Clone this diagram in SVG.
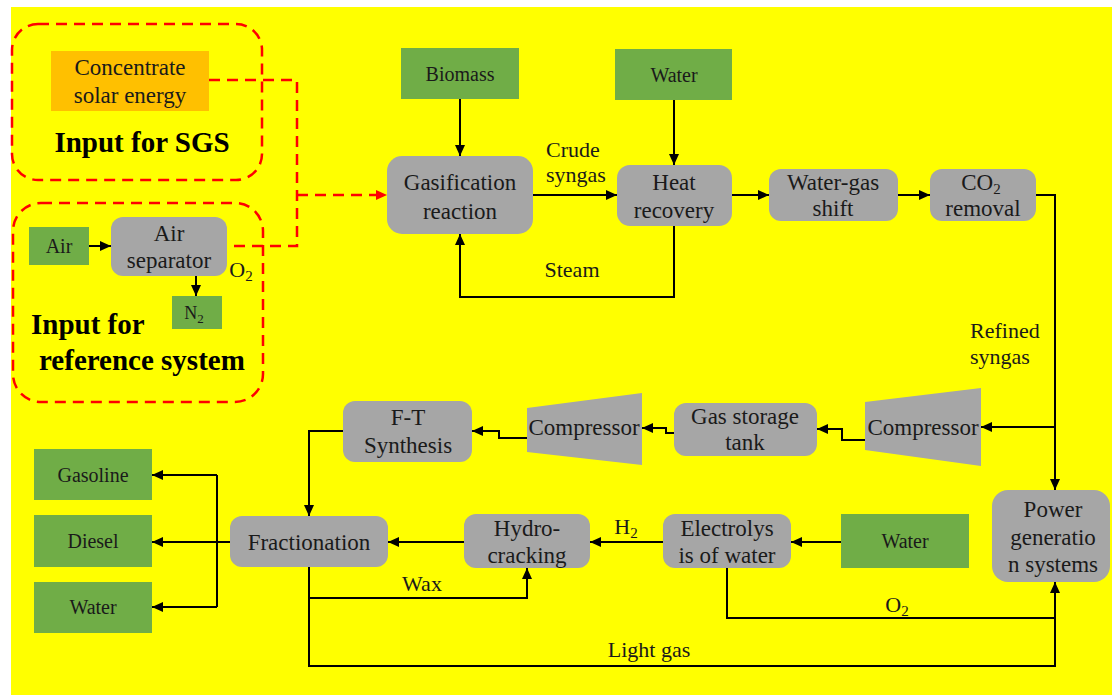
<svg xmlns="http://www.w3.org/2000/svg" width="1112" height="695" viewBox="0 0 1112 695">
<defs>
<style>
text{font-family:"Liberation Serif","Times New Roman",serif;fill:#1a1a1a;text-anchor:middle}
.g{fill:#A6A6A6}
.gr{fill:#70AD47}
.t{font-size:23px}
.s{font-size:20px}
.b{font-size:29px;font-weight:bold;fill:#000}
.l{font-size:22px;text-anchor:start}
.m{font-size:22px}
.c{fill:none;stroke:#000;stroke-width:2}
.d{fill:none;stroke:#FF0000;stroke-width:2.5;stroke-dasharray:11 7}
</style>
<marker id="a" markerUnits="userSpaceOnUse" markerWidth="11" markerHeight="10" refX="11" refY="5" orient="auto"><path d="M0,0 L11,5 L0,10 z" fill="#000"/></marker>
<marker id="r" markerUnits="userSpaceOnUse" markerWidth="11" markerHeight="10" refX="11" refY="5" orient="auto"><path d="M0,0 L11,5 L0,10 z" fill="#FF0000"/></marker>
</defs>
<rect x="11" y="7" width="1101" height="688" fill="#FFFF00"/>

<g id="group-sgs">
<rect class="d" x="12" y="24" width="250" height="156" rx="26"/>
<text class="b" x="142" y="152">Input for SGS</text>
</g>
<g id="group-ref">
<rect class="d" x="13" y="203" width="250" height="199" rx="28"/>
<text class="b" x="31" y="334" style="text-anchor:start">Input for</text>
<text class="b" x="39" y="370" style="text-anchor:start">reference system</text>
</g>

<g id="connectors">
<path class="d" d="M209,80 H297 V246 H227"/>
<path class="d" d="M297,195 H387" marker-end="url(#r)"/>
<path class="c" d="M89,246 H111" marker-end="url(#a)"/>
<path class="c" d="M196,276 V296" marker-end="url(#a)"/>
<path class="c" d="M460,99 V156" marker-end="url(#a)"/>
<path class="c" d="M674,100 V165" marker-end="url(#a)"/>
<path class="c" d="M533,195 H617" marker-end="url(#a)"/>
<path class="c" d="M674,226 V297 H460 V234" marker-end="url(#a)"/>
<path class="c" d="M732,195 H769" marker-end="url(#a)"/>
<path class="c" d="M898,195 H930" marker-end="url(#a)"/>
<path class="c" d="M1036,195 H1055 V490" marker-end="url(#a)"/>
<path class="c" d="M1055,427 H981" marker-end="url(#a)"/>
<path class="c" d="M865,440 H842 V429 H817" marker-end="url(#a)"/>
<path class="c" d="M674,433 H666 V428 H642" marker-end="url(#a)"/>
<path class="c" d="M527,438 H499 V431 H472" marker-end="url(#a)"/>
<path class="c" d="M343,431 H309 V516" marker-end="url(#a)"/>
<path class="c" d="M230,542 H152" marker-end="url(#a)"/>
<path class="c" d="M217,475 V607"/>
<path class="c" d="M217,475 H152" marker-end="url(#a)"/>
<path class="c" d="M217,607 H152" marker-end="url(#a)"/>
<path class="c" d="M464,542 H388" marker-end="url(#a)"/>
<path class="c" d="M309,567 V598 H527 V568" marker-end="url(#a)"/>
<path class="c" d="M309,598 V666 H1055 V582" marker-end="url(#a)"/>
<path class="c" d="M663,542 H590" marker-end="url(#a)"/>
<path class="c" d="M841,542 H791" marker-end="url(#a)"/>
<path class="c" d="M727,568 V618 H1055"/>
</g>

<g id="labels">
<text class="l" x="546" y="157">Crude</text>
<text class="l" x="546" y="182">syngas</text>
<text class="m" x="572" y="277">Steam</text>
<text class="l" x="970" y="338">Refined</text>
<text class="l" x="970" y="364">syngas</text>
<text class="m" x="422" y="591">Wax</text>
<text class="m" x="626" y="534">H<tspan font-size="15" dy="4">2</tspan></text>
<text class="m" x="897" y="612">O<tspan font-size="15" dy="4">2</tspan></text>
<text class="m" x="241" y="277">O<tspan font-size="15" dy="4">2</tspan></text>
<text class="m" x="649" y="657">Light gas</text>
</g>

<g id="solar"><rect x="51" y="51" width="158" height="60" fill="#FFC000"/><text class="t" x="130" y="75">Concentrate</text><text class="t" x="130" y="103">solar energy</text></g>
<g id="air"><rect class="gr" x="29" y="227" width="60" height="38"/><text class="s" x="59" y="253">Air</text></g>
<g id="air-separator"><rect class="g" x="111" y="217" width="116" height="59" rx="12"/><text class="t" x="169" y="241">Air</text><text class="t" x="169" y="268">separator</text></g>
<g id="n2"><rect class="gr" x="172" y="296" width="50" height="33"/><text x="194" y="319" font-size="18">N<tspan font-size="13" dy="4">2</tspan></text></g>
<g id="biomass"><rect class="gr" x="401" y="48" width="118" height="51"/><text class="s" x="460" y="81">Biomass</text></g>
<g id="water-top"><rect class="gr" x="615" y="49" width="117" height="51"/><text class="s" x="674" y="82">Water</text></g>
<g id="gasification"><rect class="g" x="387" y="156" width="146" height="78" rx="15"/><text class="t" x="460" y="190">Gasification</text><text class="t" x="460" y="219">reaction</text></g>
<g id="heat-recovery"><rect class="g" x="617" y="165" width="115" height="61" rx="13"/><text class="t" x="674" y="190">Heat</text><text class="t" x="674" y="218">recovery</text></g>
<g id="water-gas-shift"><rect class="g" x="769" y="169" width="129" height="52" rx="12"/><text class="t" x="833" y="190">Water-gas</text><text class="t" x="833" y="216">shift</text></g>
<g id="co2-removal"><rect class="g" x="930" y="169" width="106" height="52" rx="12"/><text class="t" x="981" y="190">CO<tspan font-size="15" dy="4">2</tspan></text><text class="t" x="983" y="216">removal</text></g>
<g id="compressor-1"><path class="g" d="M865,402 L981,388 L981,466 L865,450 z"/><text class="t" x="923" y="435">Compressor</text></g>
<g id="gas-storage"><rect class="g" x="674" y="403" width="143" height="53" rx="12"/><text class="t" x="745" y="424">Gas storage</text><text class="t" x="745" y="450">tank</text></g>
<g id="compressor-2"><path class="g" d="M527,408 L642,393 L642,465 L527,452 z"/><text class="t" x="584" y="435">Compressor</text></g>
<g id="ft-synthesis"><rect class="g" x="343" y="401" width="129" height="61" rx="12"/><text class="t" x="408" y="425">F-T</text><text class="t" x="408" y="453">Synthesis</text></g>
<g id="gasoline"><rect class="gr" x="34" y="449" width="118" height="51"/><text class="s" x="93" y="482">Gasoline</text></g>
<g id="diesel"><rect class="gr" x="34" y="515" width="118" height="52"/><text class="s" x="93" y="548">Diesel</text></g>
<g id="water-left"><rect class="gr" x="34" y="582" width="118" height="51"/><text class="s" x="93" y="614">Water</text></g>
<g id="fractionation"><rect class="g" x="230" y="516" width="158" height="51" rx="12"/><text class="t" x="309" y="550">Fractionation</text></g>
<g id="hydrocracking"><rect class="g" x="464" y="514" width="126" height="54" rx="12"/><text class="t" x="527" y="536">Hydro-</text><text class="t" x="527" y="563">cracking</text></g>
<g id="electrolysis"><rect class="g" x="663" y="514" width="128" height="54" rx="12"/><text class="t" x="727" y="536">Electrolys</text><text class="t" x="727" y="563">is of water</text></g>
<g id="water-right"><rect class="gr" x="841" y="514" width="128" height="54"/><text class="s" x="905" y="548">Water</text></g>
<g id="power-generation"><rect class="g" x="992" y="490" width="118" height="92" rx="16"/><text class="t" x="1053" y="517">Power</text><text class="t" x="1053" y="545">generatio</text><text class="t" x="1053" y="572">n systems</text></g>
</svg>
